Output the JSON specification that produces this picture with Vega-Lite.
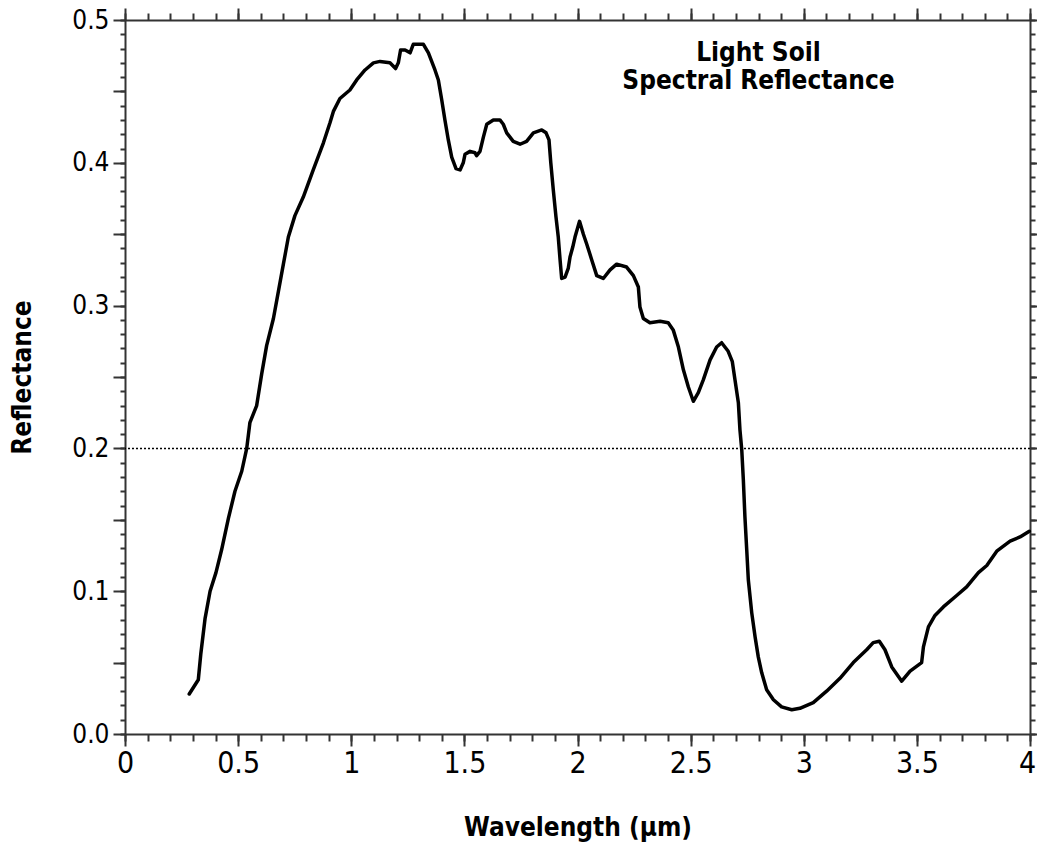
{
  "$schema": "https://vega.github.io/schema/vega-lite/v6.json",
  "width": 905,
  "height": 714,
  "autosize": "none",
  "padding": {"left": 125, "top": 20, "right": 7, "bottom": 109},
  "config": {
    "view": {"stroke": null},
    "axis": {
      "grid": false,
      "domainColor": "#333",
      "domainWidth": 2,
      "tickColor": "#333",
      "tickWidth": 2,
      "labelFont": "DejaVu Sans Condensed, DejaVu Sans",
      "labelColor": "#000",
      "titleFont": "DejaVu Sans Condensed, DejaVu Sans",
      "titleFontWeight": "bold",
      "titleColor": "#000",
      "labelFlush": false,
      "labelOverlap": false
    }
  },
  "title": {
    "text": ["Light Soil", "Spectral Reflectance"],
    "anchor": "middle",
    "frame": "group",
    "dx": 181,
    "dy": 108,
    "offset": 0,
    "baseline": "alphabetic",
    "fontSize": 26,
    "font": "DejaVu Sans Condensed, DejaVu Sans",
    "fontWeight": "bold",
    "lineHeight": 28,
    "color": "#000"
  },
  "datasets": {
    "curve": [
      {"wavelength": 0.284, "reflectance": 0.028},
      {"wavelength": 0.324, "reflectance": 0.038},
      {"wavelength": 0.335, "reflectance": 0.056},
      {"wavelength": 0.354, "reflectance": 0.081},
      {"wavelength": 0.376, "reflectance": 0.100},
      {"wavelength": 0.402, "reflectance": 0.113},
      {"wavelength": 0.427, "reflectance": 0.129},
      {"wavelength": 0.457, "reflectance": 0.151},
      {"wavelength": 0.486, "reflectance": 0.170},
      {"wavelength": 0.516, "reflectance": 0.184},
      {"wavelength": 0.538, "reflectance": 0.200},
      {"wavelength": 0.552, "reflectance": 0.218},
      {"wavelength": 0.582, "reflectance": 0.230},
      {"wavelength": 0.604, "reflectance": 0.252},
      {"wavelength": 0.626, "reflectance": 0.272},
      {"wavelength": 0.656, "reflectance": 0.291},
      {"wavelength": 0.678, "reflectance": 0.310},
      {"wavelength": 0.700, "reflectance": 0.329},
      {"wavelength": 0.722, "reflectance": 0.348},
      {"wavelength": 0.751, "reflectance": 0.363},
      {"wavelength": 0.788, "reflectance": 0.376},
      {"wavelength": 0.832, "reflectance": 0.395},
      {"wavelength": 0.877, "reflectance": 0.414},
      {"wavelength": 0.906, "reflectance": 0.428},
      {"wavelength": 0.921, "reflectance": 0.436},
      {"wavelength": 0.950, "reflectance": 0.445},
      {"wavelength": 0.994, "reflectance": 0.451},
      {"wavelength": 1.024, "reflectance": 0.458},
      {"wavelength": 1.061, "reflectance": 0.465},
      {"wavelength": 1.098, "reflectance": 0.470},
      {"wavelength": 1.127, "reflectance": 0.471},
      {"wavelength": 1.171, "reflectance": 0.470},
      {"wavelength": 1.196, "reflectance": 0.466},
      {"wavelength": 1.208, "reflectance": 0.470},
      {"wavelength": 1.218, "reflectance": 0.479},
      {"wavelength": 1.238, "reflectance": 0.479},
      {"wavelength": 1.260, "reflectance": 0.477},
      {"wavelength": 1.274, "reflectance": 0.483},
      {"wavelength": 1.296, "reflectance": 0.483},
      {"wavelength": 1.319, "reflectance": 0.483},
      {"wavelength": 1.341, "reflectance": 0.477},
      {"wavelength": 1.370, "reflectance": 0.465},
      {"wavelength": 1.385, "reflectance": 0.458},
      {"wavelength": 1.400, "reflectance": 0.444},
      {"wavelength": 1.414, "reflectance": 0.430},
      {"wavelength": 1.429, "reflectance": 0.416},
      {"wavelength": 1.444, "reflectance": 0.404},
      {"wavelength": 1.463, "reflectance": 0.396},
      {"wavelength": 1.481, "reflectance": 0.395},
      {"wavelength": 1.495, "reflectance": 0.400},
      {"wavelength": 1.503, "reflectance": 0.406},
      {"wavelength": 1.525, "reflectance": 0.408},
      {"wavelength": 1.547, "reflectance": 0.407},
      {"wavelength": 1.554, "reflectance": 0.405},
      {"wavelength": 1.569, "reflectance": 0.408},
      {"wavelength": 1.584, "reflectance": 0.418},
      {"wavelength": 1.599, "reflectance": 0.427},
      {"wavelength": 1.628, "reflectance": 0.430},
      {"wavelength": 1.657, "reflectance": 0.430},
      {"wavelength": 1.672, "reflectance": 0.427},
      {"wavelength": 1.687, "reflectance": 0.421},
      {"wavelength": 1.716, "reflectance": 0.415},
      {"wavelength": 1.746, "reflectance": 0.413},
      {"wavelength": 1.775, "reflectance": 0.415},
      {"wavelength": 1.805, "reflectance": 0.421},
      {"wavelength": 1.842, "reflectance": 0.423},
      {"wavelength": 1.861, "reflectance": 0.421},
      {"wavelength": 1.874, "reflectance": 0.416},
      {"wavelength": 1.882, "reflectance": 0.400},
      {"wavelength": 1.893, "reflectance": 0.381},
      {"wavelength": 1.905, "reflectance": 0.362},
      {"wavelength": 1.915, "reflectance": 0.348},
      {"wavelength": 1.923, "reflectance": 0.332},
      {"wavelength": 1.930, "reflectance": 0.319},
      {"wavelength": 1.945, "reflectance": 0.320},
      {"wavelength": 1.959, "reflectance": 0.326},
      {"wavelength": 1.967, "reflectance": 0.334},
      {"wavelength": 1.979, "reflectance": 0.341},
      {"wavelength": 1.989, "reflectance": 0.348},
      {"wavelength": 2.009, "reflectance": 0.359},
      {"wavelength": 2.026, "reflectance": 0.350},
      {"wavelength": 2.041, "reflectance": 0.343},
      {"wavelength": 2.063, "reflectance": 0.332},
      {"wavelength": 2.085, "reflectance": 0.321},
      {"wavelength": 2.114, "reflectance": 0.319},
      {"wavelength": 2.144, "reflectance": 0.325},
      {"wavelength": 2.173, "reflectance": 0.329},
      {"wavelength": 2.217, "reflectance": 0.327},
      {"wavelength": 2.247, "reflectance": 0.321},
      {"wavelength": 2.269, "reflectance": 0.313},
      {"wavelength": 2.276, "reflectance": 0.299},
      {"wavelength": 2.291, "reflectance": 0.291},
      {"wavelength": 2.320, "reflectance": 0.288},
      {"wavelength": 2.365, "reflectance": 0.289},
      {"wavelength": 2.401, "reflectance": 0.288},
      {"wavelength": 2.423, "reflectance": 0.283},
      {"wavelength": 2.446, "reflectance": 0.271},
      {"wavelength": 2.468, "reflectance": 0.255},
      {"wavelength": 2.490, "reflectance": 0.243},
      {"wavelength": 2.512, "reflectance": 0.233},
      {"wavelength": 2.534, "reflectance": 0.239},
      {"wavelength": 2.556, "reflectance": 0.248},
      {"wavelength": 2.586, "reflectance": 0.262},
      {"wavelength": 2.615, "reflectance": 0.271},
      {"wavelength": 2.637, "reflectance": 0.274},
      {"wavelength": 2.666, "reflectance": 0.268},
      {"wavelength": 2.684, "reflectance": 0.261},
      {"wavelength": 2.696, "reflectance": 0.248},
      {"wavelength": 2.711, "reflectance": 0.232},
      {"wavelength": 2.718, "reflectance": 0.213},
      {"wavelength": 2.726, "reflectance": 0.199},
      {"wavelength": 2.733, "reflectance": 0.178},
      {"wavelength": 2.740, "reflectance": 0.152},
      {"wavelength": 2.748, "reflectance": 0.129},
      {"wavelength": 2.755, "reflectance": 0.108},
      {"wavelength": 2.770, "reflectance": 0.085},
      {"wavelength": 2.785, "reflectance": 0.068},
      {"wavelength": 2.799, "reflectance": 0.054},
      {"wavelength": 2.814, "reflectance": 0.043},
      {"wavelength": 2.836, "reflectance": 0.031},
      {"wavelength": 2.866, "reflectance": 0.024},
      {"wavelength": 2.902, "reflectance": 0.019},
      {"wavelength": 2.947, "reflectance": 0.017},
      {"wavelength": 2.983, "reflectance": 0.018},
      {"wavelength": 3.042, "reflectance": 0.022},
      {"wavelength": 3.101, "reflectance": 0.030},
      {"wavelength": 3.160, "reflectance": 0.039},
      {"wavelength": 3.219, "reflectance": 0.050},
      {"wavelength": 3.278, "reflectance": 0.059},
      {"wavelength": 3.307, "reflectance": 0.064},
      {"wavelength": 3.334, "reflectance": 0.065},
      {"wavelength": 3.359, "reflectance": 0.059},
      {"wavelength": 3.389, "reflectance": 0.047},
      {"wavelength": 3.433, "reflectance": 0.037},
      {"wavelength": 3.470, "reflectance": 0.044},
      {"wavelength": 3.521, "reflectance": 0.050},
      {"wavelength": 3.529, "reflectance": 0.061},
      {"wavelength": 3.551, "reflectance": 0.075},
      {"wavelength": 3.580, "reflectance": 0.083},
      {"wavelength": 3.617, "reflectance": 0.089},
      {"wavelength": 3.676, "reflectance": 0.097},
      {"wavelength": 3.720, "reflectance": 0.103},
      {"wavelength": 3.772, "reflectance": 0.113},
      {"wavelength": 3.809, "reflectance": 0.118},
      {"wavelength": 3.853, "reflectance": 0.128},
      {"wavelength": 3.912, "reflectance": 0.135},
      {"wavelength": 3.956, "reflectance": 0.138},
      {"wavelength": 3.997, "reflectance": 0.142}
    ],
    "ref": [{"level": 0.2}]
  },
  "layer": [
    {
      "data": {"name": "ref"},
      "mark": {"type": "rule", "color": "#000", "strokeWidth": 1.5, "strokeDash": [2, 2]},
      "encoding": {
        "y": {"field": "level", "type": "quantitative", "scale": {"domain": [0, 0.5], "nice": false}, "axis": null}
      }
    },
    {
      "data": {"name": "curve"},
      "mark": {"type": "line", "color": "#000", "strokeWidth": 3.5, "strokeJoin": "round", "strokeCap": "round"},
      "encoding": {
        "x": {
          "field": "wavelength", "type": "quantitative",
          "scale": {"domain": [0, 4], "nice": false, "zero": false},
          "axis": {
            "orient": "bottom",
            "values": [0, 0.5, 1, 1.5, 2, 2.5, 3, 3.5, 4],
            "format": "~g",
            "tickSize": 12,
            "labelFontSize": 30,
            "labelPadding": 2,
            "labelOffset": {"condition": {"test": "datum.value == 4", "value": -3}, "value": 0},
            "title": "Wavelength (µm)",
            "titleFontSize": 26,
            "titleBaseline": "alphabetic",
            "titleY": 101
          }
        },
        "y": {
          "field": "reflectance", "type": "quantitative",
          "scale": {"domain": [0, 0.5], "nice": false},
          "axis": {
            "orient": "left",
            "values": [0, 0.05, 0.1, 0.15, 0.2, 0.25, 0.3, 0.35, 0.4, 0.45, 0.5],
            "labelExpr": "round(datum.value * 100) % 10 == 0 ? format(datum.value, '.1f') : ''",
            "tickSize": 12,
            "labelFontSize": 26,
            "labelPadding": 4,
            "title": "Reflectance",
            "titleFontSize": 26,
            "titleAngle": -90,
            "titleAlign": "center",
            "titleBaseline": "middle",
            "titleX": -103,
            "titleY": 357
          }
        }
      }
    },
    {
      "data": {"name": "curve"},
      "mark": {"type": "line", "opacity": 0},
      "encoding": {
        "x": {
          "field": "wavelength", "type": "quantitative",
          "axis": {
            "orient": "bottom", "domain": false, "labels": false, "title": null, "tickSize": 7,
            "values": [0, 0.1, 0.2, 0.3, 0.4, 0.5, 0.6, 0.7, 0.8, 0.9, 1, 1.1, 1.2, 1.3, 1.4, 1.5, 1.6, 1.7, 1.8, 1.9, 2, 2.1, 2.2, 2.3, 2.4, 2.5, 2.6, 2.7, 2.8, 2.9, 3, 3.1, 3.2, 3.3, 3.4, 3.5, 3.6, 3.7, 3.8, 3.9, 4]
          }
        },
        "y": {
          "field": "reflectance", "type": "quantitative",
          "axis": {
            "orient": "left", "domain": false, "labels": false, "title": null, "tickSize": 5,
            "values": [0, 0.01, 0.02, 0.03, 0.04, 0.05, 0.06, 0.07, 0.08, 0.09, 0.1, 0.11, 0.12, 0.13, 0.14, 0.15, 0.16, 0.17, 0.18, 0.19, 0.2, 0.21, 0.22, 0.23, 0.24, 0.25, 0.26, 0.27, 0.28, 0.29, 0.3, 0.31, 0.32, 0.33, 0.34, 0.35, 0.36, 0.37, 0.38, 0.39, 0.4, 0.41, 0.42, 0.43, 0.44, 0.45, 0.46, 0.47, 0.48, 0.49, 0.5]
          }
        }
      }
    },
    {
      "data": {"name": "curve"},
      "mark": {"type": "line", "opacity": 0},
      "encoding": {
        "x": {
          "field": "wavelength", "type": "quantitative",
          "axis": {"orient": "top", "labels": false, "title": null, "tickSize": 12, "values": [0, 0.5, 1, 1.5, 2, 2.5, 3, 3.5, 4]}
        },
        "y": {
          "field": "reflectance", "type": "quantitative",
          "axis": {"orient": "right", "labels": false, "title": null, "tickSize": 12, "values": [0, 0.05, 0.1, 0.15, 0.2, 0.25, 0.3, 0.35, 0.4, 0.45, 0.5]}
        }
      }
    },
    {
      "data": {"name": "curve"},
      "mark": {"type": "line", "opacity": 0},
      "encoding": {
        "x": {
          "field": "wavelength", "type": "quantitative",
          "axis": {
            "orient": "top", "domain": false, "labels": false, "title": null, "tickSize": 7,
            "values": [0, 0.1, 0.2, 0.3, 0.4, 0.5, 0.6, 0.7, 0.8, 0.9, 1, 1.1, 1.2, 1.3, 1.4, 1.5, 1.6, 1.7, 1.8, 1.9, 2, 2.1, 2.2, 2.3, 2.4, 2.5, 2.6, 2.7, 2.8, 2.9, 3, 3.1, 3.2, 3.3, 3.4, 3.5, 3.6, 3.7, 3.8, 3.9, 4]
          }
        },
        "y": {
          "field": "reflectance", "type": "quantitative",
          "axis": {
            "orient": "right", "domain": false, "labels": false, "title": null, "tickSize": 5,
            "values": [0, 0.01, 0.02, 0.03, 0.04, 0.05, 0.06, 0.07, 0.08, 0.09, 0.1, 0.11, 0.12, 0.13, 0.14, 0.15, 0.16, 0.17, 0.18, 0.19, 0.2, 0.21, 0.22, 0.23, 0.24, 0.25, 0.26, 0.27, 0.28, 0.29, 0.3, 0.31, 0.32, 0.33, 0.34, 0.35, 0.36, 0.37, 0.38, 0.39, 0.4, 0.41, 0.42, 0.43, 0.44, 0.45, 0.46, 0.47, 0.48, 0.49, 0.5]
          }
        }
      }
    }
  ],
  "resolve": {"axis": {"x": "independent", "y": "independent"}}
}
